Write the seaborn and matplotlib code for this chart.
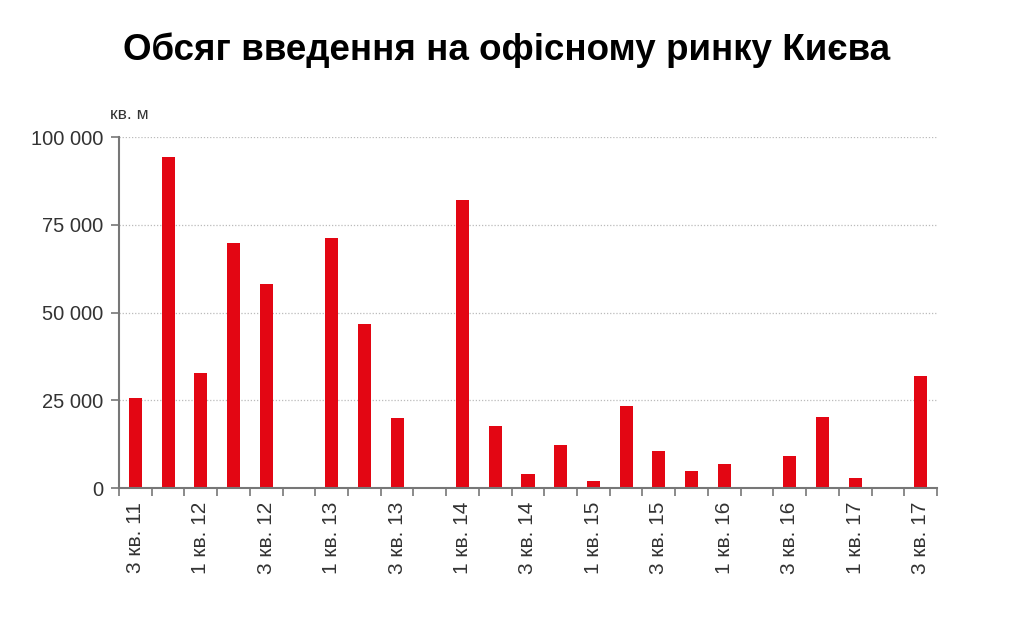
import matplotlib
matplotlib.use("Agg")
import matplotlib.pyplot as plt
import seaborn as sns
import pandas as pd
from matplotlib.ticker import FuncFormatter, FixedLocator

quarters = ["3 кв. 11", "4 кв. 11", "1 кв. 12", "2 кв. 12", "3 кв. 12", "4 кв. 12",
            "1 кв. 13", "2 кв. 13", "3 кв. 13", "4 кв. 13", "1 кв. 14", "2 кв. 14",
            "3 кв. 14", "4 кв. 14", "1 кв. 15", "2 кв. 15", "3 кв. 15", "4 кв. 15",
            "1 кв. 16", "2 кв. 16", "3 кв. 16", "4 кв. 16", "1 кв. 17", "2 кв. 17",
            "3 кв. 17"]
volumes = [25800, 94300, 32800, 69800, 58100, 0,
           71200, 46700, 19900, 0, 82000, 17700,
           4000, 12300, 2000, 23500, 10500, 4800,
           7000, 0, 9100, 20300, 3000, 0,
           31900]
yticks = [0, 25000, 50000, 75000, 100000]

sns.set_theme(style="white")
plt.rcParams['font.family'] = ['Liberation Sans', 'DejaVu Sans']

df = pd.DataFrame({"q": quarters, "v": volumes})
fig = plt.figure(figsize=(10.24, 6.18), dpi=100)
ax = fig.add_axes([0.1162, 0.21, 0.7988, 0.568])
sns.barplot(data=df, x="q", y="v", order=quarters, color="#E30613",
            width=0.4, saturation=1, ax=ax, linewidth=0)

ax.set_xlim(-0.5, len(quarters) - 0.5)
ax.set_ylim(0, 100000)
ax.set_yticks(yticks)
ax.yaxis.set_major_formatter(FuncFormatter(lambda v, p: f"{int(v):,}".replace(",", " ")))
label_pos = list(range(0, len(quarters), 2))
ax.set_xticks(label_pos)
ax.set_xticklabels([quarters[i] for i in label_pos], rotation=90)
ax.xaxis.set_minor_locator(FixedLocator([i - 0.5 for i in range(len(quarters) + 1)]))
ax.tick_params(axis="x", which="major", length=0, pad=10, labelsize=15, colors="#333333")
ax.tick_params(axis="x", which="minor", length=6, width=1.2, color="#777777", direction="out", bottom=True)
ax.tick_params(axis="y", which="major", length=6, width=1.2, color="#777777", direction="out",
               left=True, labelsize=14.5, labelcolor="#333333", pad=5)
for s in ["top", "right"]:
    ax.spines[s].set_visible(False)
for s in ["left", "bottom"]:
    ax.spines[s].set_color("#777777")
    ax.spines[s].set_linewidth(1.5)
ax.yaxis.grid(True, linestyle=(0, (1, 1.5)), color="#bbbbbb", linewidth=0.9)
ax.set_axisbelow(True)
ax.set_xlabel("")
ax.set_ylabel("")

fig.text(0.107, 0.803, "кв. м", fontsize=12.5, color="#333333", ha="left", va="bottom")
fig.text(0.495, 0.918, "Обсяг введення на офісному ринку Києва",
         fontsize=26.5, fontweight="bold", ha="center", va="center", color="black")

fig.savefig("out.png", dpi=100)
